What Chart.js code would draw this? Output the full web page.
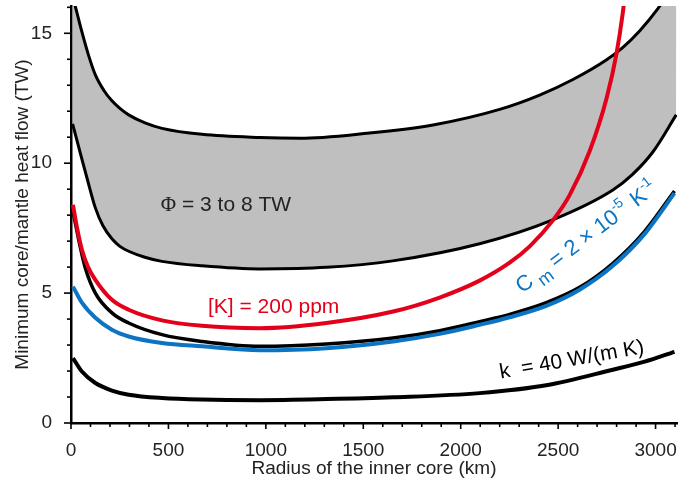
<!DOCTYPE html>
<html>
<head>
<meta charset="utf-8">
<script src="https://cdn.jsdelivr.net/npm/chart.js@4"></script>
<style>
  html, body { margin: 0; padding: 0; background: #fff; }
  #wrap { width: 692px; height: 484px; }
</style>
</head>
<body>
<div id="wrap"><canvas id="heatChart" width="692" height="484"></canvas></div>
<script>
// grey band, Phi = 3 to 8 TW
const radiusUpper = [8, 20, 56, 91, 125, 169, 210, 251, 296, 380, 467, 672, 969, 1174, 1516, 1858, 2200, 2405, 2576, 2747, 2831, 2918, 3012, 3108];
const upperBand = [16.45, 16.1, 15.05, 14.13, 13.4, 12.8, 12.4, 12.11, 11.86, 11.55, 11.34, 11.11, 10.99, 10.96, 11.15, 11.47, 12.07, 12.62, 13.22, 13.97, 14.45, 15.09, 15.95, 17.0];
const radiusLower = [8, 14, 48, 82, 125, 164, 210, 251, 296, 379, 467, 672, 969, 1313, 1651, 2097, 2472, 2781, 2882, 2986, 3106];
const lowerBand = [11.51, 11.35, 10.38, 9.43, 8.28, 7.59, 7.09, 6.8, 6.61, 6.38, 6.22, 6.05, 5.93, 5.99, 6.24, 6.9, 7.82, 8.97, 9.57, 10.43, 11.86];

// [K] = 200 ppm
const radiusK = [10, 30, 56, 87, 125, 210, 296, 467, 672, 969, 1311, 1653, 1892, 2097, 2251, 2354, 2472, 2559, 2662, 2749, 2800, 2831, 2851];
const heatK = [8.4, 7.55, 6.67, 6.01, 5.51, 4.74, 4.36, 3.95, 3.74, 3.65, 3.85, 4.29, 4.83, 5.48, 6.17, 6.8, 7.79, 8.77, 10.47, 12.51, 14.24, 15.74, 17.04];

// reference case (black, under the blue one)
const radiusRef = [10, 22, 46, 73, 125, 210, 296, 467, 672, 969, 1311, 1653, 1892, 2097, 2251, 2439, 2610, 2781, 2944, 3097];
const heatRef = [8.13, 7.7, 6.82, 5.98, 5.0, 4.24, 3.85, 3.4, 3.14, 2.95, 3.04, 3.27, 3.55, 3.9, 4.18, 4.63, 5.22, 6.15, 7.38, 8.93];

// Cm = 2e-5 /K
const radiusCm = [10, 56, 125, 210, 296, 467, 672, 969, 1311, 1653, 1892, 2097, 2251, 2439, 2610, 2781, 2944, 3097];
const heatCm = [5.25, 4.63, 4.05, 3.59, 3.33, 3.08, 2.95, 2.8, 2.88, 3.14, 3.43, 3.78, 4.07, 4.51, 5.13, 6.05, 7.28, 8.85];

// k = 40 W/(m K)
const radiusK40 = [10, 56, 125, 210, 296, 467, 672, 969, 1313, 1653, 2097, 2439, 2781, 2944, 3097];
const heatK40 = [2.5, 1.98, 1.54, 1.25, 1.09, 0.96, 0.9, 0.88, 0.92, 0.99, 1.15, 1.45, 2.05, 2.36, 2.74];

const xTicks = [0, 500, 1000, 1500, 2000, 2500, 3000];
const yTicks = [0, 5, 10, 15];

const FONT = "'Liberation Sans', Arial, sans-serif";
const RED = "#e2001a";
const BLUE = "#0b74c3";
const TEXT = "#222";

function pts(xs, ys) {
  return xs.map((x, i) => ({ x: x, y: ys[i] }));
}

function lineSet(label, xs, ys, color, width, order, extra) {
  return Object.assign({
    label: label,
    data: pts(xs, ys),
    borderColor: color,
    borderWidth: width,
    pointRadius: 0,
    cubicInterpolationMode: "monotone",
    fill: false,
    order: order,
  }, extra || {});
}

// minor + major tick marks, drawn from the scales
const tickMarks = {
  id: "tickMarks",
  afterDraw(chart) {
    const ctx = chart.ctx;
    const xs = chart.scales.x, ys = chart.scales.y;
    const y0 = xs.top, x0 = ys.right;
    ctx.save();
    ctx.strokeStyle = "#000";
    ctx.lineWidth = 1.6;
    for (let v = 0; v <= xs.max; v += 100) {
      const px = xs.getPixelForValue(v);
      const len = v % 500 === 0 ? 6 : 4;
      ctx.beginPath();
      ctx.moveTo(px, y0);
      ctx.lineTo(px, y0 + len);
      ctx.stroke();
    }
    for (let v = 0; v <= ys.max; v += 1) {
      const py = ys.getPixelForValue(v);
      const len = v % 5 === 0 ? 7 : 4;
      ctx.beginPath();
      ctx.moveTo(x0, py);
      ctx.lineTo(x0 - len, py);
      ctx.stroke();
    }
    ctx.restore();
  }
};

function drawRuns(ctx, runs, cx, cy, angle, color) {
  ctx.save();
  ctx.translate(cx, cy);
  ctx.rotate(angle * Math.PI / 180);
  ctx.fillStyle = color;
  ctx.textBaseline = "alphabetic";
  let total = 0;
  runs.forEach(r => {
    ctx.font = r.size + "px " + (r.family || FONT);
    r.w = ctx.measureText(r.t).width + (r.dx || 0);
    total += r.w;
  });
  let x = -total / 2;
  runs.forEach(r => {
    ctx.font = r.size + "px " + (r.family || FONT);
    ctx.fillText(r.t, x + (r.dx || 0), r.dy || 0);
    x += r.w;
  });
  ctx.restore();
}

// text labels placed in data coordinates
const labels = {
  id: "labels",
  afterDatasetsDraw(chart) {
    const ctx = chart.ctx;
    const xs = chart.scales.x, ys = chart.scales.y;
    const at = (x, y) => [xs.getPixelForValue(x), ys.getPixelForValue(y)];

    let p = at(795, 8.15);
    drawRuns(ctx, [
      { t: "\u03A6", size: 21, family: "'Liberation Serif', serif" },
      { t: " = 3 to 8 TW", size: 21 }
    ], p[0], p[1], 0, TEXT);

    p = at(1040, 4.25);
    drawRuns(ctx, [{ t: "[K] = 200 ppm", size: 21 }], p[0], p[1], 0, RED);

    p = at(2665, 6.95);
    drawRuns(ctx, [
      { t: "C", size: 22 },
      { t: "m", size: 18, dy: 7, dx: 5 },
      { t: " = 2 \u00D7 10", size: 22 },
      { t: "-5", size: 14, dy: -10 },
      { t: " K", size: 22, dx: 2 },
      { t: "-1", size: 14, dy: -10 }
    ], p[0], p[1], -37, BLUE);

    p = at(2575, 2.2);
    drawRuns(ctx, [{ t: "k  = 40 W/(m K)", size: 21 }], p[0], p[1], -10, "#000");
  }
};

const ctx = document.getElementById("heatChart");

new Chart(ctx, {
  type: "line",
  data: {
    datasets: [
      lineSet("Phi upper", radiusUpper, upperBand, "#000", 3, 4, { fill: "+1", backgroundColor: "#bfbfbf" }),
      lineSet("Phi lower", radiusLower, lowerBand, "#000", 3, 5),
      lineSet("[K] = 200 ppm", radiusK, heatK, RED, 4, 0),
      lineSet("Cm", radiusCm, heatCm, BLUE, 4, 1),
      lineSet("reference", radiusRef, heatRef, "#000", 3.5, 2),
      lineSet("k = 40", radiusK40, heatK40, "#000", 4, 3),
    ],
  },
  options: {
    responsive: false,
    animation: false,
    devicePixelRatio: 1,
    layout: { padding: { top: 6, right: 15, left: 0, bottom: 0 } },
    plugins: {
      legend: { display: false },
      tooltip: { enabled: false },
      filler: { drawTime: "beforeDatasetsDraw" },
    },
    scales: {
      x: {
        type: "linear",
        min: 0,
        max: 3110,
        afterFit(scale) {
          scale.height = 61;
          scale.paddingLeft = 0;
          scale.paddingRight = 0;
        },
        afterBuildTicks(scale) { scale.ticks = xTicks.map(v => ({ value: v })); },
        grid: { display: false },
        border: { display: true, color: "#000", width: 2.5 },
        ticks: {
          color: TEXT,
          font: { family: FONT, size: 19 },
          padding: 8,
          maxRotation: 0,
          autoSkip: false,
          callback: v => String(v),
        },
        title: {
          display: true,
          text: "Radius of the inner core (km)",
          color: TEXT,
          font: { family: FONT, size: 19 },
          padding: { top: 0, bottom: 4 },
        },
      },
      y: {
        min: 0,
        max: 16.05,
        afterFit(scale) {
          scale.width = 71;
          scale.paddingTop = 0;
          scale.paddingBottom = 0;
        },
        afterBuildTicks(scale) { scale.ticks = yTicks.map(v => ({ value: v })); },
        grid: { display: false },
        border: { display: true, color: "#000", width: 2.5 },
        ticks: { color: TEXT, font: { family: FONT, size: 19 }, padding: 11, callback: v => String(v) },
        title: {
          display: true,
          text: "Minimum core/mantle heat flow (TW)",
          color: TEXT,
          font: { family: FONT, size: 19 },
          padding: { top: 11, bottom: 0 },
        },
      },
    },
  },
  plugins: [tickMarks, labels],
});
</script>
</body>
</html>
